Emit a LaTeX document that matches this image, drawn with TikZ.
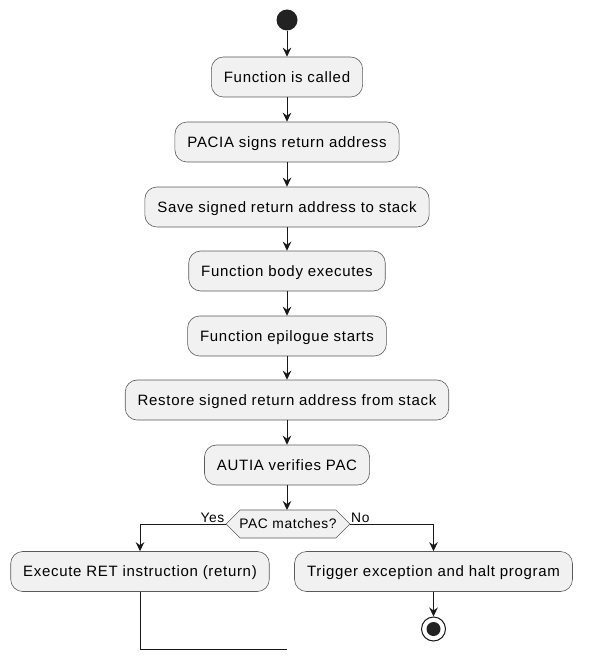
\documentclass[tikz,border=0pt]{standalone}
\usepackage{fontspec}
\setmainfont{Liberation Sans}[LetterSpace=4.6]
\usetikzlibrary{arrows.meta}
\definecolor{boxfill}{HTML}{F1F1F1}
\definecolor{boxline}{HTML}{5A5A5A}
\definecolor{ink}{HTML}{181818}
\definecolor{dot}{HTML}{222222}
\begin{document}
\begin{tikzpicture}[x=1pt,y=-1pt,
  act/.style={draw=boxline, line width=0.6pt, fill=boxfill, rounded corners=12pt,
    minimum height=40pt, inner xsep=12.5pt, inner ysep=0pt, text height=10.7pt, text depth=0pt,
    font=\fontsize{15}{17}\selectfont, text=black},
  flow/.style={draw=ink, line width=1pt, -{Stealth[length=9pt,width=8.5pt,inset=3pt]}},
  plain/.style={draw=ink, line width=1pt},
  lbl/.style={font=\fontsize{13.8}{16}\selectfont, inner sep=0pt, text height=9.9pt, text depth=0pt}
]
\useasboundingbox (0,0) rectangle (599,663);
\node[circle, fill=dot, minimum size=21pt, inner sep=0pt] (start) at (287,20) {};
\node[act] (a1) at (287,77) {Function is called};
\node[act] (a2) at (287,142) {PACIA signs return address};
\node[act] (a3) at (287,207) {Save signed return address to stack};
\node[act] (a4) at (287,271) {Function body executes};
\node[act] (a5) at (287,336) {Function epilogue starts};
\node[act] (a6) at (287,400) {Restore signed return address from stack};
\node[act] (a7) at (287,465) {AUTIA verifies PAC};
% decision hexagon
\coordinate (decL) at (226,524);
\coordinate (decR) at (350,524);
\draw[draw=boxline, line width=0.6pt, fill=boxfill] (decL) -- (240,510) -- (336,510) -- (decR) -- (336,538) -- (240,538) -- cycle;
\node[lbl] (dec) at (288,524) {PAC matches?};
\node[act] (ret) at (140,571.5) {Execute RET instruction (return)};
\node[act] (trap) at (433.5,571.5) {Trigger exception and halt program};
\node[circle, draw=ink, line width=1pt, fill=white, minimum size=24pt, inner sep=0pt] (stop) at (433.5,629) {};
\node[circle, fill=dot, minimum size=14pt, inner sep=0pt] at (stop) {};
\node[lbl, anchor=south east] (yes) at (224.5,522.5) {Yes};
\node[lbl, anchor=south west] (no) at (351,522.5) {No};
\coordinate (merge) at (287,649);
% connectors
\draw[flow] (start) -- (a1);
\draw[flow] (a1) -- (a2);
\draw[flow] (a2) -- (a3);
\draw[flow] (a3) -- (a4);
\draw[flow] (a4) -- (a5);
\draw[flow] (a5) -- (a6);
\draw[flow] (a6) -- (a7);
\draw[flow] (a7.south) -- (287,510);
\draw[flow] (decL) -| (ret.north);
\draw[flow] (decR) -| (trap.north);
\draw[flow] (trap.south) -- (stop.north);
\draw[plain] (ret.south) |- (merge);
\end{tikzpicture}
\end{document}
